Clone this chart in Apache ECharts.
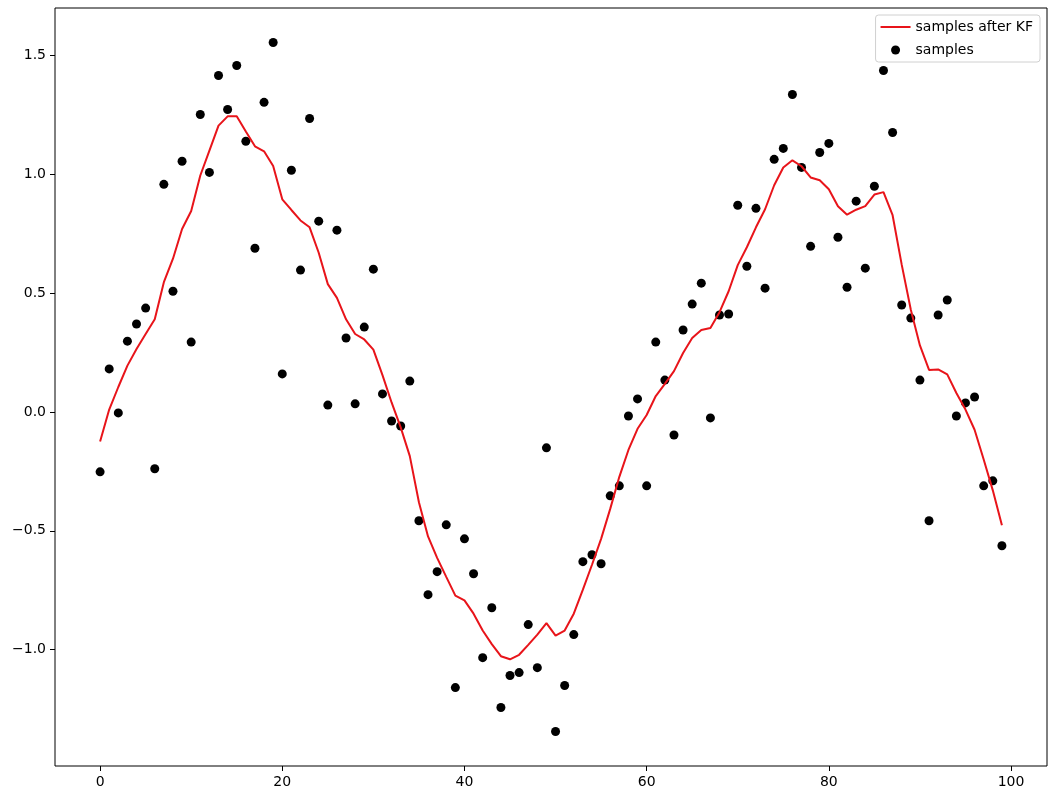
<!DOCTYPE html>
<html>
<head>
<meta charset="utf-8">
<title>samples after KF</title>
<script src="https://cdn.jsdelivr.net/npm/echarts@6/dist/echarts.min.js"></script>
<style>
    html, body { margin: 0; padding: 0; background: #fff; }
    #chart { width: 1060px; height: 804px; }
</style>
</head>
<body>
<div id="chart"></div>
<script>
// raw noisy measurements, one per step
const samples = [
    -0.252, 0.181, -0.004, 0.298, 0.370, 0.437, -0.239, 0.958, 0.508, 1.055,
    0.294, 1.252, 1.008, 1.416, 1.273, 1.458, 1.139, 0.689, 1.303, 1.555,
    0.160, 1.017, 0.597, 1.235, 0.803, 0.029, 0.765, 0.311, 0.034, 0.357,
    0.601, 0.076, -0.038, -0.059, 0.130, -0.458, -0.769, -0.672, -0.475, -1.160,
    -0.534, -0.681, -1.034, -0.824, -1.244, -1.109, -1.097, -0.895, -1.076, -0.151,
    -1.345, -1.151, -0.937, -0.630, -0.601, -0.639, -0.353, -0.311, -0.017, 0.055,
    -0.311, 0.294, 0.134, -0.097, 0.345, 0.454, 0.542, -0.025, 0.408, 0.412,
    0.870, 0.613, 0.857, 0.521, 1.063, 1.109, 1.336, 1.029, 0.697, 1.092,
    1.130, 0.735, 0.525, 0.887, 0.605, 0.950, 1.437, 1.176, 0.450, 0.395,
    0.134, -0.458, 0.408, 0.471, -0.017, 0.038, 0.063, -0.311, -0.290, -0.563
]

// kalman filter output
const filtered = [
    -0.124, 0.010, 0.105, 0.195, 0.265, 0.328, 0.390, 0.546, 0.645, 0.770,
    0.846, 0.995, 1.100, 1.205, 1.244, 1.244, 1.180, 1.118, 1.097, 1.035,
    0.895, 0.850, 0.806, 0.777, 0.670, 0.538, 0.480, 0.390, 0.328, 0.305,
    0.262, 0.155, 0.040, -0.065, -0.186, -0.380, -0.524, -0.614, -0.694, -0.773,
    -0.793, -0.849, -0.920, -0.977, -1.028, -1.041, -1.022, -0.980, -0.937, -0.889,
    -0.941, -0.920, -0.849, -0.748, -0.643, -0.534, -0.408, -0.273, -0.160, -0.071,
    -0.013, 0.067, 0.118, 0.172, 0.248, 0.311, 0.345, 0.353, 0.420, 0.508,
    0.618, 0.693, 0.777, 0.853, 0.954, 1.029, 1.059, 1.034, 0.987, 0.975,
    0.937, 0.866, 0.830, 0.851, 0.866, 0.915, 0.925, 0.828, 0.620, 0.430,
    0.280, 0.177, 0.179, 0.158, 0.080, 0.010, -0.075, -0.200, -0.330, -0.477
]

const xTicks = [0, 20, 40, 60, 80, 100]
const yTicks = [-1.0, -0.5, 0.0, 0.5, 1.0, 1.5]

const font = 'DejaVu Sans'

// matplotlib style labels with a real minus sign
function fmtY(v) {
    return (v < 0 ? '\u2212' : '') + Math.abs(v).toFixed(1)
}

const pts = samples.map((v, i) => [i, v])
const line = filtered.map((v, i) => [i, v])

const chart = echarts.init(document.getElementById('chart'))
chart.setOption({
    animation: false,
    backgroundColor: '#fff',
    grid: {
        left: 55,
        right: 13,
        top: 8,
        bottom: 38,
        show: true,
        borderColor: '#000',
        borderWidth: 1,
        backgroundColor: 'transparent'
    },
    legend: {
        orient: 'vertical',
        right: 20,
        top: 15,
        padding: [4, 7, 4, 5],
        itemGap: 7,
        itemWidth: 30,
        itemHeight: 9,
        backgroundColor: '#fff',
        borderColor: '#d0d0d0',
        borderWidth: 1,
        borderRadius: 3,
        textStyle: { fontFamily: font, fontSize: 14, color: '#000', lineHeight: 16 },
        data: [
            { name: 'samples after KF', icon: 'path://M0,0L30,0L30,2L0,2Z' },
            { name: 'samples', icon: 'circle' }
        ]
    },
    xAxis: {
        type: 'value',
        min: -4.95,
        max: 103.95,
        splitLine: { show: false },
        axisLine: { show: false, onZero: false },
        axisTick: {
            show: true,
            length: 5,
            lineStyle: { color: '#000' },
            customValues: xTicks
        },
        axisLabel: {
            customValues: xTicks,
            margin: 9,
            fontFamily: font,
            fontSize: 14,
            color: '#000',
            showMinLabel: true,
            showMaxLabel: true
        }
    },
    yAxis: {
        type: 'value',
        min: -1.49,
        max: 1.70,
        splitLine: { show: false },
        axisLine: { show: false, onZero: false },
        axisTick: {
            show: true,
            length: 5,
            lineStyle: { color: '#000' },
            customValues: yTicks
        },
        axisLabel: {
            customValues: yTicks,
            margin: 9,
            fontFamily: font,
            fontSize: 14,
            color: '#000',
            formatter: fmtY
        }
    },
    series: [
        {
            name: 'samples after KF',
            type: 'line',
            data: line,
            z: 3,
            showSymbol: false,
            symbol: 'none',
            itemStyle: { color: '#e8141a' },
            lineStyle: { color: '#e8141a', width: 2 }
        },
        {
            name: 'samples',
            type: 'scatter',
            data: pts,
            z: 2,
            symbol: 'circle',
            symbolSize: 9,
            itemStyle: { color: '#000', opacity: 1 }
        }
    ]
})
</script>
</body>
</html>
